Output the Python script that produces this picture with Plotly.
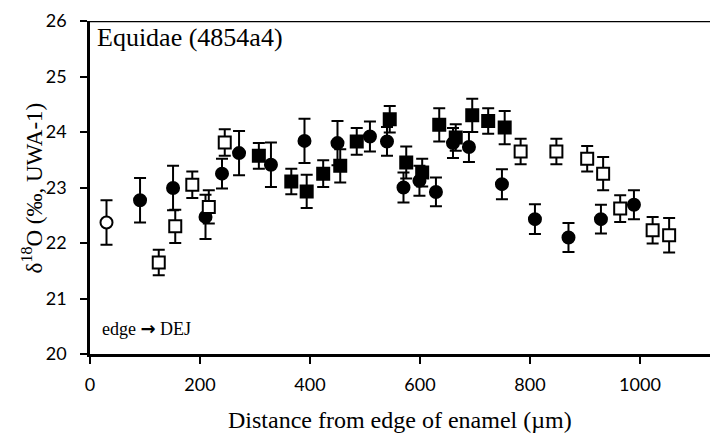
import plotly.graph_objects as go

# ---- data ----
oc_x = [30]
oc_y = [22.37]
oc_e = [0.40]

fc_x = [91, 151, 210, 240, 271, 329, 390, 450, 509, 540, 570, 599, 629, 660, 689, 749, 809, 870, 929, 989]
fc_y = [22.77, 22.99, 22.47, 23.25, 23.62, 23.41, 23.84, 23.80, 23.92, 23.83, 23.00, 23.12, 22.92, 23.80,
        23.73, 23.06, 22.43, 22.10, 22.43, 22.69]
fc_e = [0.40, 0.40, 0.40, 0.27, 0.40, 0.40, 0.40, 0.40, 0.27, 0.26, 0.27, 0.27, 0.26, 0.27, 0.27, 0.27,
        0.27, 0.26, 0.26, 0.26]

fs_x = [307, 366, 394, 424, 455, 485, 545, 575, 604, 635, 665, 695, 724, 754]
fs_y = [23.57, 23.11, 22.93, 23.25, 23.39, 23.83, 24.23, 23.45, 23.27, 24.13, 23.90, 24.30, 24.20, 24.08]
fs_e = [0.23, 0.23, 0.30, 0.24, 0.30, 0.24, 0.24, 0.29, 0.25, 0.30, 0.24, 0.30, 0.23, 0.30]

os_x = [125, 155, 186, 216, 245, 783, 848, 904, 933, 964, 1023, 1053]
os_y = [21.65, 22.30, 23.05, 22.65, 23.81, 23.65, 23.65, 23.52, 23.25, 22.62, 22.23, 22.14]
os_e = [0.23, 0.30, 0.24, 0.30, 0.24, 0.23, 0.23, 0.23, 0.30, 0.24, 0.24, 0.31]

x_ticks = [0, 200, 400, 600, 800, 1000]
y_ticks = [20, 21, 22, 23, 24, 25, 26]

SERIF = "Liberation Serif, Times New Roman, serif"
SANS = "Lato, Open Sans, sans-serif"

fig = go.Figure()


def add(xs, ys, es, symbol, fill, size):
    fig.add_trace(go.Scatter(
        x=xs, y=ys, mode="markers",
        error_y=dict(type="data", array=es, visible=True, color="black", thickness=2, width=6),
        marker=dict(symbol=symbol, size=size, color=fill, line=dict(color="black", width=2)),
        showlegend=False, cliponaxis=False,
    ))


add(oc_x, oc_y, oc_e, "circle", "white", 12)
add(fc_x, fc_y, fc_e, "circle", "black", 12)
add(os_x, os_y, os_e, "square", "white", 12)
add(fs_x, fs_y, fs_e, "square", "black", 12)

fig.update_layout(
    width=710, height=435,
    margin=dict(l=90, r=0, t=21, b=81),
    paper_bgcolor="white", plot_bgcolor="white",
    xaxis=dict(range=[0, 1127.3], tickvals=x_ticks, ticks="outside", ticklen=7, tickwidth=2,
               tickcolor="black", showline=True, linecolor="black", linewidth=2.5,
               showgrid=False, zeroline=False, ticklabelstandoff=6,
               tickfont=dict(family=SANS, size=18, color="black")),
    yaxis=dict(range=[20, 26], tickvals=y_ticks, ticks="outside", ticklen=7, tickwidth=2,
               tickcolor="black", showline=True, linecolor="black", linewidth=2.5,
               showgrid=False, zeroline=False, ticklabelstandoff=10,
               tickfont=dict(family=SANS, size=18, color="black")),
    shapes=[dict(type="line", xref="paper", yref="y", x0=0, x1=1, y0=26, y1=26,
                 line=dict(color="black", width=2.5))],
    annotations=[
        dict(text="Distance from edge of enamel (µm)", xref="paper", yref="paper",
             x=0.5, y=-0.198, xanchor="center", yanchor="middle", showarrow=False,
             font=dict(family=SERIF, size=24, color="black")),
        dict(text="δ<sup>18</sup>O (‰, UWA-1)", xref="paper", yref="paper",
             x=-0.092, y=0.5, xanchor="center", yanchor="middle", showarrow=False,
             textangle=-90, font=dict(family=SERIF, size=23, color="black")),
        dict(text="Equidae (4854a4)", xref="paper", yref="paper",
             x=0.008, y=0.951, xanchor="left", yanchor="middle", showarrow=False,
             font=dict(family=SERIF, size=26, color="black")),
        dict(text="edge <span style=\"font-family:DejaVu Sans\"><b>→</b></span> DEJ",
             xref="paper", yref="paper",
             x=0.016, y=0.077, xanchor="left", yanchor="middle", showarrow=False,
             font=dict(family=SERIF, size=18, color="black")),
    ],
)

fig.write_html("out.html")
